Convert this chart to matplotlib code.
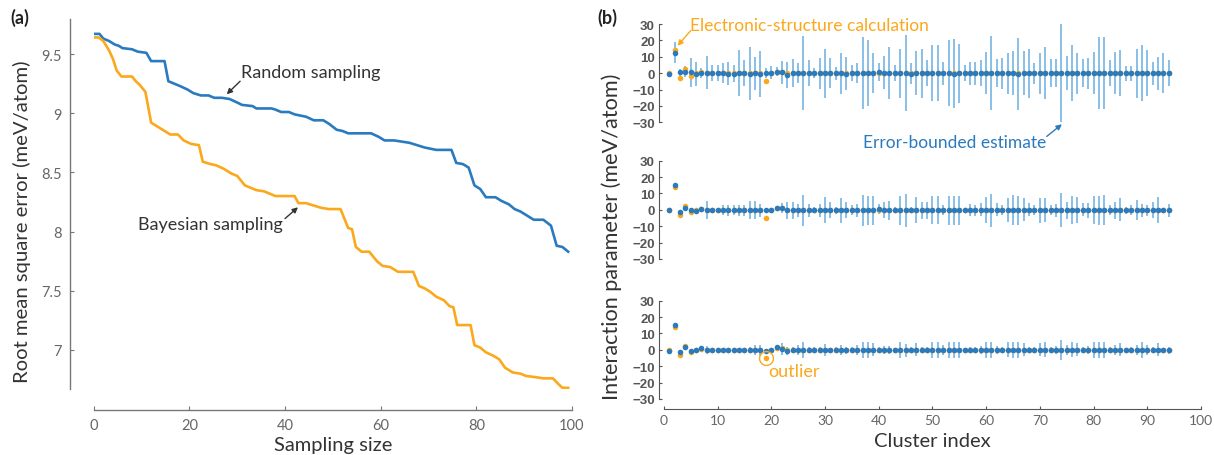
import matplotlib
matplotlib.use('Agg')
import matplotlib.pyplot as plt
import numpy as np

plt.rcParams['font.family'] = ['Lato', 'DejaVu Sans']

# ---- panel (a): RMSE vs sampling size ----
random_x = [0, 1.2, 2, 3.2, 4.4, 5.2, 6, 8, 9.2, 11, 12, 14.8, 15.6, 16.8, 18,
            19.6, 20.8, 22.4, 24, 25.2, 26.8, 28.4, 30, 31, 33.2, 34, 37.2, 38,
            39.2, 40.8, 42, 43.2, 44.4, 46, 48, 49.2, 50.8, 52, 53.2, 58, 59.6,
            60.8, 62.8, 64.4, 66, 67.6, 69.2, 71.6, 74.8, 75.8, 77.2, 78.4, 79.6,
            80.8, 82, 84, 85.2, 86.8, 88, 89.2, 90.8, 92, 94, 95.6, 96.8, 98, 99.2]
random_y = [9.67, 9.67, 9.63, 9.61, 9.58, 9.57, 9.55, 9.54, 9.52, 9.51, 9.44, 9.44,
            9.27, 9.25, 9.23, 9.20, 9.17, 9.15, 9.15, 9.13, 9.13, 9.12, 9.09, 9.07,
            9.06, 9.04, 9.04, 9.03, 9.01, 9.01, 8.99, 8.98, 8.97, 8.94, 8.94, 8.91,
            8.86, 8.85, 8.83, 8.83, 8.80, 8.77, 8.77, 8.76, 8.75, 8.73, 8.71, 8.69,
            8.69, 8.58, 8.57, 8.54, 8.39, 8.36, 8.29, 8.29, 8.26, 8.23, 8.19, 8.17,
            8.13, 8.10, 8.10, 8.05, 7.88, 7.87, 7.83]

bayes_x = [0, 1, 2, 3.2, 4, 4.8, 5.8, 8, 8.8, 9.6, 10.8, 12, 13.2, 14.8, 16, 17.6,
           18.8, 20.4, 22, 22.8, 24.4, 25.6, 27.2, 28.8, 30, 31.6, 32.8, 34, 35.6,
           38, 42, 42.8, 44.4, 46, 47.6, 49.2, 51.6, 53.2, 54, 54.8, 56, 57.6, 59.2,
           60.4, 62, 63.6, 66.8, 68, 69.2, 70.4, 71.6, 73.2, 74.4, 75.2, 76, 78.8,
           79.6, 80.8, 82, 83.6, 84.8, 86, 87.6, 89.2, 90.4, 92.4, 94, 96, 97.2, 98, 99.2]
bayes_y = [9.64, 9.64, 9.61, 9.53, 9.46, 9.36, 9.31, 9.31, 9.27, 9.24, 9.18, 8.92,
           8.89, 8.85, 8.82, 8.82, 8.77, 8.74, 8.73, 8.59, 8.57, 8.56, 8.53, 8.49,
           8.47, 8.39, 8.37, 8.35, 8.34, 8.30, 8.30, 8.24, 8.24, 8.22, 8.20, 8.19,
           8.19, 8.03, 8.02, 7.87, 7.83, 7.83, 7.75, 7.71, 7.70, 7.66, 7.66, 7.54,
           7.52, 7.49, 7.45, 7.42, 7.37, 7.36, 7.21, 7.21, 7.04, 7.02, 6.98, 6.95,
           6.92, 6.85, 6.81, 6.80, 6.78, 6.77, 6.76, 6.76, 6.71, 6.68, 6.68]

# ---- panel (b): interaction parameters, cluster index 1..94 ----
cluster = list(range(1, 95))
calc = [0, 14, -3, 2.5, -1.5, 0, 0.5, 0, 0, 0, 0, 0, 0, 0, 0, 0, 0, 0, -5, 0,
        1, 1, 0, 0, 0, 0, 0, 0, 0, 0, 0, 0, 0, 0, 0, 0, 0, 0, 0, 0,
        0, 0, 0, 0, 0, 0, 0, 0, 0, 0, 0, 0, 0, 0, 0, 0, 0, 0, 0, 0,
        0, 0, 0, 0, 0, 0, 0, 0, 0, 0, 0, 0, 0, 0, 0, 0, 0, 0, 0, 0,
        0, 0, 0, 0, 0, 0, 0, 0, 0, 0, 0, 0, 0, 0]

est_top = [-0.6, 12.5, 0.4, 1, 0.4, -0.5, 0, 0.3, 0, 0, 0, -0.3, -0.3, 0, 0, -0.3, 0, -0.3, 0, 0.3,
           1, 0.5, -1, 0, 0, 0, 0, 0, 0, 0, 0, 0, 0, -0.3, 0, 0, 0, 0, 0, 0.8,
           0.3, 0, 0, 0, 0, -0.3, 0, 0, 0, 0, 0, 0, 0, -0.3, 0, 0, 0, 0, 0, 0,
           0, 0, 0, 0, 0, -0.3, 0, 0, 0, 0, 0, 0, 0, 0, 0, 0, 0, 0, 0, 0,
           0, 0, 0, 0, 0, 0, 0, 0, 0, 0, 0, 0, 0, 0]
err_top = [0, 6.3, 2, 3.5, 9, 7.5, 3, 10, 5, 5, 6, 7, 5, 14, 8, 16, 10, 14, 3, 4,
           3, 7, 8, 8.5, 6, 22.5, 8, 3, 9.5, 15, 9, 4, 12.5, 10, 5, 6, 22, 20, 12, 5.5,
           10, 16, 5, 15, 23, 6.5, 13.5, 15, 8, 17, 17, 7, 20, 21, 18, 5, 7, 7, 8, 13,
           22.5, 8.5, 9.5, 12.5, 13.5, 22, 13.5, 15, 6.5, 12.5, 16, 8.5, 8.5, 30, 10.5, 17, 12.5, 8.5, 9.5, 13,
           22, 22, 8, 13, 14, 4.5, 4.5, 15, 17, 14, 7, 10, 12, 8]

est_mid = [-0.3, 15.2, -1.2, 1.2, 0, -0.8, 0.8, 0, 0, 0, 0, -0.3, -0.3, -0.3, -0.3, -0.3, -0.3, -0.3, -0.3, 0,
           1.4, 1, -0.3, -0.3, -0.3, -0.3, -0.3, 0, -0.3, -0.3, 0, -0.3, -0.3, 0, -0.3, -0.3, -0.3, -0.3, -0.3, 0.5,
           0, -0.3, 0, -0.3, -0.3, 0, -0.3, -0.3, -0.3, -0.3, -0.3, 0, -0.3, -0.3, -0.3, 0, 0, -0.3, 0, 0,
           -0.3, 0, -0.3, 0, 0, -0.3, 0, 0, -0.3, -0.3, 0, 0, -0.3, 0, -0.3, 0, -0.3, 0, -0.3, -0.3,
           -0.3, 0, 0, -0.3, 0, -0.3, 0, 0, -0.3, -0.3, 0, -0.3, -0.3, -0.3]
err_mid = [0, 0, 0, 1, 1, 1, 1, 5.5, 1, 1, 3, 3.5, 3, 3.5, 3.5, 5.5, 5.5, 4, 1, 1,
           1, 3, 5, 5, 4, 9.5, 4, 2, 4, 8, 5, 2, 7.5, 5, 3, 4, 9.5, 9, 9, 3,
           5, 6, 2, 9, 10, 2, 8, 5, 5, 8.5, 8.5, 3, 9, 9, 9, 1, 3.5, 3.5, 4, 8,
           10, 4, 3, 7.5, 9, 9, 7, 4, 3, 7.5, 7.5, 3, 4, 10.5, 5, 8.5, 8, 4, 4.5, 8.5,
           9, 9, 3, 5, 7, 2, 3, 6, 4, 3.5, 5, 8, 1, 4]

est_bot = [-0.5, 15, -1.5, 2, -0.5, 0, 1, 0, 0, 0, -0.3, -0.3, -0.3, -0.3, -0.3, 0, 0, -0.3, -0.4, 0,
           1.6, 0.5, -0.5, 0, 0, 0, 0, 0, 0, 0, 0, 0, 0, -0.3, 0, 0, 0, 0, 0, 0,
           0, 0, 0, 0, -0.3, 0, 0, 0, 0, 0, 0, 0, 0, 0, 0, 0, 0, 0, 0, 0,
           0, 0, 0, 0, 0, 0, 0, 0, 0, 0, 0, 0, 0, 0, 0, 0, 0, 0, 0, 0,
           0, 0, 0, 0, 0, 0, 0, 0, 0, 0, 0, 0, -0.3, -0.3]
err_bot = [0, 0, 0, 0.5, 0.5, 0.5, 1, 2.5, 1, 1, 1, 1, 1, 1, 1.5, 2, 3, 3.5, 1, 1,
           1, 3.5, 2.5, 2, 3, 5, 2, 2, 2, 3.5, 1, 2, 3, 2, 2, 3, 5, 5, 4, 1.5,
           2.5, 2.5, 1, 5, 4, 2, 4, 2, 1.5, 5, 5, 3, 5, 5, 5, 1, 2, 2, 2.5, 5,
           5, 2.5, 2, 4.5, 5, 5, 4, 2, 2, 4, 4.5, 2, 2.5, 6, 3, 4.5, 4, 2, 2.5, 5,
           5, 5, 2, 3, 4, 1, 2, 3, 5, 3, 2, 4, 1, 2]

BLUE = '#2a7abf'
ORANGE = '#fba81c'
BAR = '#6aaddf'
TXT = '#333333'
TICK = '#666666'

W, H = 1214, 456
fig = plt.figure(figsize=(W / 100, H / 100), dpi=100)

# panel (a)
ax = fig.add_axes([93.75 / W, 1 - 390 / H, 478.25 / W, 370.5 / H])
ax.plot(random_x, random_y, color=BLUE, lw=1.9)
ax.plot(bayes_x, bayes_y, color=ORANGE, lw=1.9)
ax.set_xlim(0, 100)
ax.set_ylim(6.67, 9.8)
ax.set_xticks([0, 20, 40, 60, 80, 100])
ax.set_yticks([7, 7.5, 8, 8.5, 9, 9.5])
ax.set_yticklabels(['7', '7.5', '8', '8.5', '9', '9.5'])
for s in ['top', 'right']:
    ax.spines[s].set_visible(False)
ax.spines['left'].set_position(('outward', 17))
ax.spines['bottom'].set_position(('outward', 15))
for s in ['left', 'bottom']:
    ax.spines[s].set_color('#777777')
    ax.spines[s].set_linewidth(1.0)
ax.tick_params(direction='in', length=3, width=0.8, colors='#777777',
               labelcolor=TICK, labelsize=10.5, pad=6)
ax.set_xlabel('Sampling size', fontsize=14.5, color=TXT, labelpad=3)
fig.text(22 / W, 1 - 222 / H, 'Root mean square error (meV/atom)', rotation=90,
         fontsize=14.6, color=TXT, ha='center', va='center')

ax.text(30.8, 9.35, 'Random sampling', fontsize=13, color=TXT, va='center', ha='left')
ax.annotate('', xy=(27.8, 9.16), xytext=(30.6, 9.27),
            arrowprops=dict(arrowstyle='-|>', color='#333333', lw=1, mutation_scale=8,
                            shrinkA=0, shrinkB=0))
ax.text(39.6, 8.064, 'Bayesian sampling', fontsize=13, color=TXT, va='center', ha='right')
ax.annotate('', xy=(42.7, 8.205), xytext=(40.0, 8.11),
            arrowprops=dict(arrowstyle='-|>', color='#333333', lw=1, mutation_scale=8,
                            shrinkA=0, shrinkB=0))

# panel (b)
tops = [25, 161.7, 301.7]
ests = [est_top, est_mid, est_bot]
errs = [err_top, err_mid, err_bot]
axes_b = []
for k in range(3):
    axb = fig.add_axes([663.8 / W, 1 - (tops[k] + 98.3) / H, 537.2 / W, 98.3 / H])
    est = np.array(ests[k])
    err = np.array(errs[k])
    axb.vlines(cluster, est - err, est + err, color=BAR, lw=1.1, zorder=1)
    axb.plot(cluster, calc, 'o', color=ORANGE, ms=4, mec='none', zorder=2)
    axb.plot(cluster, est, 'o', color=BLUE, ms=4, mec='none', zorder=3)
    axb.set_xlim(0, 100)
    axb.set_ylim(-30, 30)
    axb.set_yticks([-30, -20, -10, 0, 10, 20, 30])
    for s in ['top', 'right']:
        axb.spines[s].set_visible(False)
    axb.spines['left'].set_position(('outward', 3.5))
    axb.spines['left'].set_color('#555555')
    axb.tick_params(axis='y', direction='in', length=2.5, width=0.8, colors='#555555',
                    labelcolor='#555555', labelsize=9.5, pad=3)
    for lab in axb.get_yticklabels():
        lab.set_family(['Liberation Sans', 'DejaVu Sans'])
        lab.set_fontweight('bold')
    if k < 2:
        axb.spines['bottom'].set_visible(False)
        axb.set_xticks([])
    axes_b.append(axb)

axb = axes_b[2]
axb.spines['bottom'].set_position(('outward', 7))
axb.spines['bottom'].set_color('#555555')
axb.set_xticks(range(0, 101, 10))
axb.tick_params(axis='x', direction='in', length=2.5, width=0.8, colors='#555555',
                labelcolor=TICK, labelsize=10, pad=4)
axb.set_xlabel('Cluster index', fontsize=14.5, color=TXT, labelpad=4)
axb.plot(19, -5, 'o', mfc='none', mec=ORANGE, ms=10, mew=1, zorder=4)
axb.text(19.4, -12.9, 'outlier', fontsize=13, color=ORANGE, va='center', ha='left')

axt = axes_b[0]
axt.text(4.9, 29.4, 'Electronic-structure calculation', fontsize=12.5, color=ORANGE,
         va='center', ha='left', clip_on=False)
axt.annotate('', xy=(2.55, 16.7), xytext=(5.0, 25.9), annotation_clip=False,
             arrowprops=dict(arrowstyle='-|>', color=ORANGE, lw=1, mutation_scale=8,
                             shrinkA=0, shrinkB=0))
axt.text(71.2, -42, 'Error-bounded estimate', fontsize=12.5, color=BLUE,
         va='center', ha='right', clip_on=False)
axt.annotate('', xy=(74.1, -31.2), xytext=(71.3, -38.6), annotation_clip=False,
             arrowprops=dict(arrowstyle='-|>', color=BLUE, lw=1, mutation_scale=8,
                             shrinkA=0, shrinkB=0))

fig.text(612 / W, 1 - 237 / H, 'Interaction parameter (meV/atom)', rotation=90,
         fontsize=15.6, color=TXT, ha='center', va='center')

fig.text(10 / W, 1 - 18 / H, '(a)', fontsize=13, fontweight='bold', color='#222222',
         va='center', ha='left')
fig.text(597 / W, 1 - 18 / H, '(b)', fontsize=13, fontweight='bold', color='#222222',
         va='center', ha='left')

fig.savefig('out.png', dpi=100)
